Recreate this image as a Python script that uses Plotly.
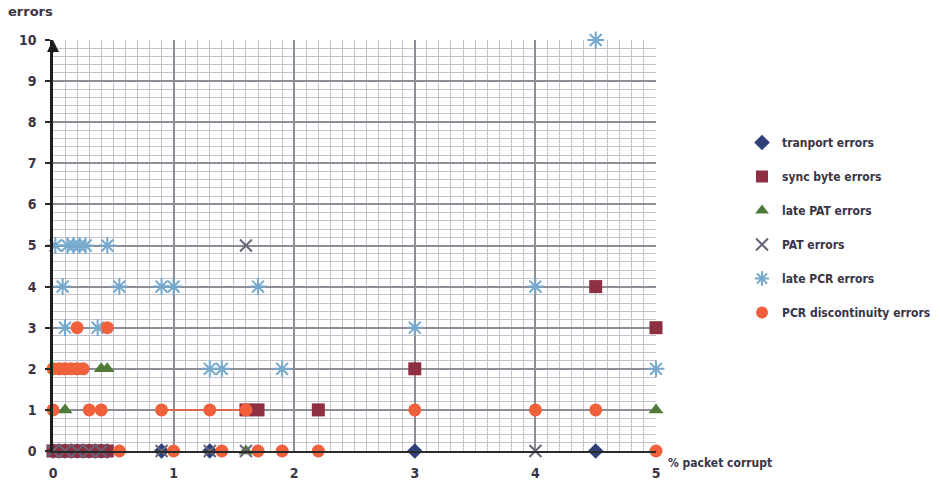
import plotly.graph_objects as go

# % packet corrupt (x) and error counts (y) for each error type
transport_x = [0, 0.05, 0.1, 0.15, 0.2, 0.25, 0.3, 0.35, 0.4, 0.45, 0.9, 1.3, 3, 4.5]
transport_y = [0, 0, 0, 0, 0, 0, 0, 0, 0, 0, 0, 0, 0, 0]

sync_x = [0, 0.05, 0.1, 0.15, 0.2, 0.25, 0.3, 0.35, 0.4, 0.45, 1.6, 1.7, 2.2, 3, 4.5, 5]
sync_y = [0, 0, 0, 0, 0, 0, 0, 0, 0, 0, 1, 1, 1, 2, 4, 3]

late_pat_x = [0.1, 0.4, 0.45, 1.6, 5]
late_pat_y = [1, 2, 2, 0, 1]

pat_x = [0, 0.1, 0.2, 0.3, 0.4, 0.9, 1.3, 1.6, 1.6, 4]
pat_y = [0, 0, 0, 0, 0, 0, 0, 0, 5, 0]

late_pcr_x = [0.02, 0.12, 0.17, 0.22, 0.27, 0.45, 0.08, 0.55, 0.9, 1.0, 1.7,
              0.1, 0.37, 1.3, 1.4, 1.9, 3, 4, 4.5, 5]
late_pcr_y = [5, 5, 5, 5, 5, 5, 4, 4, 4, 4, 4, 3, 3, 2, 2, 2, 3, 4, 10, 2]

pcr_x = [0.55, 1.0, 1.4, 1.7, 1.9, 2.2, 5,
         0, 0.3, 0.4, 0.9, 1.3, 1.6, 3, 4, 4.5,
         0, 0.05, 0.1, 0.15, 0.2, 0.25,
         0.2, 0.45]
pcr_y = [0, 0, 0, 0, 0, 0, 0,
         1, 1, 1, 1, 1, 1, 1, 1, 1,
         2, 2, 2, 2, 2, 2,
         3, 3]

x_ticks = [0, 1, 2, 3, 4, 5]
y_ticks = list(range(0, 11))

TEXT = "#3a3444"
BOLD = "DejaVu Sans Condensed"

fig = go.Figure()

series = [
    ("tranport errors", transport_x, transport_y, "diamond", "#2f3f78", 12),
    ("sync byte errors", sync_x, sync_y, "square", "#8e2f42", 13),
    ("late PAT errors", late_pat_x, late_pat_y, "triangle-up", "#4f7a3a", 13),
    ("PAT errors", pat_x, pat_y, "x-thin-open", "#6a6478", 12),
    ("late PCR errors", late_pcr_x, late_pcr_y, "asterisk-open", "#74a8cc", 14),
    ("PCR discontinuity errors", pcr_x, pcr_y, "circle", "#f0603c", 13),
]

# short connecting segment of the PCR discontinuity series at 1 error
seg = sorted((x, y) for x, y in zip(pcr_x, pcr_y) if y == 1 and 0.9 <= x <= 1.6)
fig.add_trace(go.Scatter(
    x=[p[0] for p in seg], y=[p[1] for p in seg], mode="lines",
    line=dict(color="#f0603c", width=1.5), showlegend=False, hoverinfo="skip",
    cliponaxis=False,
))

for i, (name, xs, ys, sym, col, size) in enumerate(series):
    fig.add_trace(go.Scatter(
        x=xs, y=ys, mode="markers", name=name, legendgroup=f"g{i}",
        marker=dict(symbol=sym, color=col, size=size,
                    line=dict(width=2 if "open" in sym else 0, color=col)),
        cliponaxis=False,
    ))

fig.update_layout(
    width=940, height=482,
    margin=dict(l=53, r=284, t=40, b=31),
    paper_bgcolor="white", plot_bgcolor="white",
    font=dict(family=BOLD, color=TEXT, size=13, weight="bold"),
    legend=dict(
        xref="container", yref="container",
        x=742 / 940, y=1 - 128 / 482, xanchor="left", yanchor="top",
        font=dict(family=BOLD, size=12, color=TEXT, weight="bold"),
        tracegroupgap=15, itemsizing="constant", bgcolor="rgba(0,0,0,0)",
    ),
    xaxis=dict(
        range=[0, 5], tickvals=x_ticks, ticktext=[str(v) for v in x_ticks],
        showgrid=True, gridcolor="#8e8c94", gridwidth=1.5,
        minor=dict(dtick=0.1, showgrid=True, gridcolor="#c4c2ca", gridwidth=1),
        showline=True, linecolor="#2a2a2a", linewidth=2,
        zeroline=False, ticks="", ticklabelstandoff=8, automargin=False,
        tickfont=dict(family=BOLD, size=14, color=TEXT, weight="bold"),
        fixedrange=True,
    ),
    yaxis=dict(
        range=[0, 10], tickvals=y_ticks, ticktext=[str(v) for v in y_ticks],
        showgrid=True, gridcolor="#8e8c94", gridwidth=1.5,
        minor=dict(dtick=0.2, showgrid=True, gridcolor="#c4c2ca", gridwidth=1),
        showline=True, linecolor="#1e1e1e", linewidth=2.5,
        zeroline=False, ticks="outside", ticklen=5, tickwidth=2, tickcolor="#2a2a2a",
        ticklabelstandoff=6, automargin=False,
        tickfont=dict(family=BOLD, size=14, color=TEXT, weight="bold"),
        fixedrange=True,
    ),
    annotations=[
        dict(text="errors", xref="paper", yref="paper",
             x=(6 - 53) / 603, y=(451 - 2) / 411, xanchor="left", yanchor="top",
             showarrow=False, font=dict(family="DejaVu Sans", size=13, color=TEXT, weight="bold")),
        dict(text="% packet corrupt", xref="paper", yref="paper",
             x=1, y=0, xshift=10, yshift=-12, xanchor="left", yanchor="middle",
             showarrow=False, font=dict(family=BOLD, size=12, color=TEXT, weight="bold")),
        dict(text="", x=0, y=10, xref="x", yref="y", ax=0, ay=14,
             showarrow=True, arrowhead=2, arrowsize=1.2, arrowwidth=2, arrowcolor="#1e1e1e"),
    ],
)

fig.write_html("out.html")
